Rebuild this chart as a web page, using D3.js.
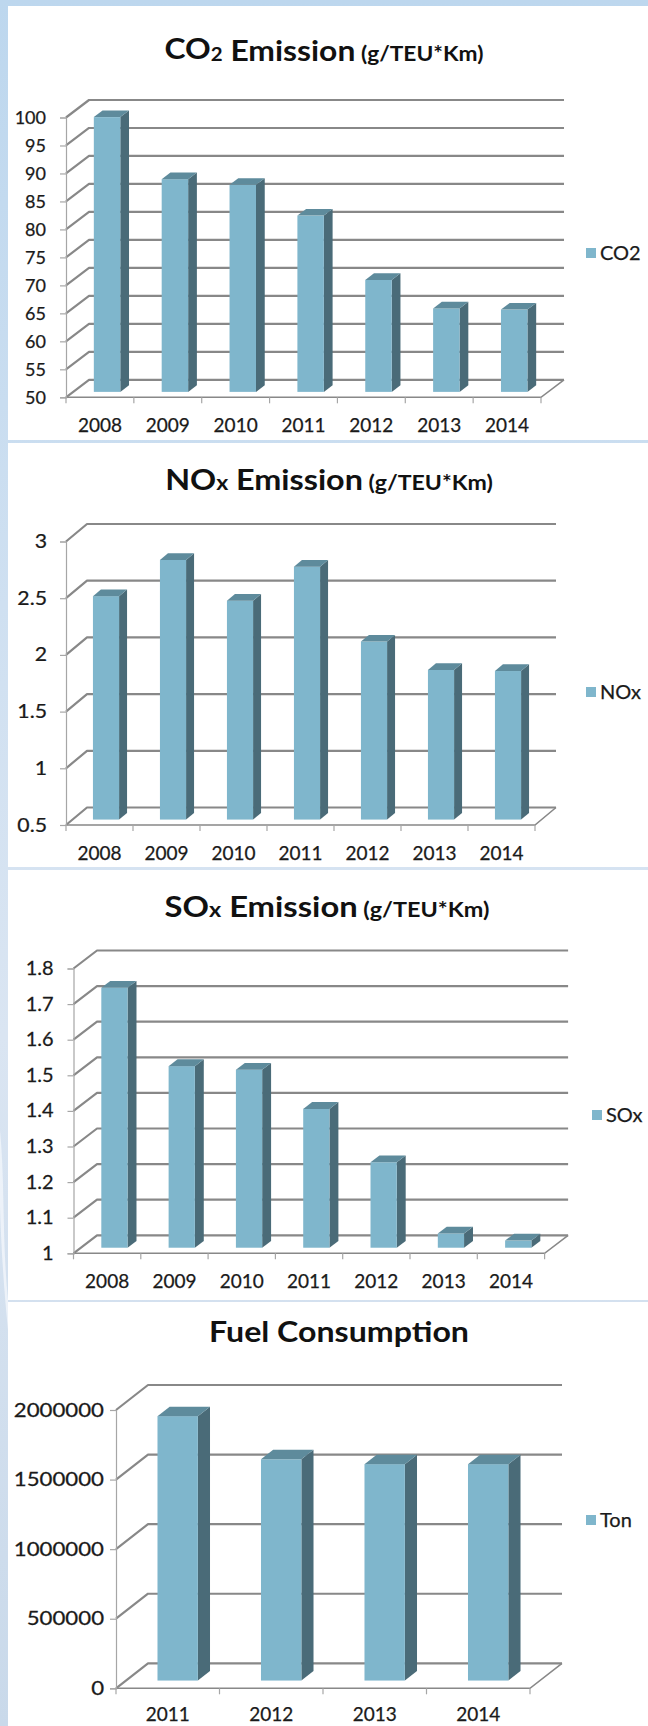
<!DOCTYPE html>
<html>
<head>
<meta charset="utf-8">
<script src="https://cdn.jsdelivr.net/npm/d3@7/dist/d3.min.js"></script>
<style>
  html, body { margin: 0; padding: 0; background: #ffffff; }
  svg { display: block; }
</style>
</head>
<body>
<svg id="chart" width="648" height="1726"></svg>
<script>
// ---- data ----
const years7 = ["2008", "2009", "2010", "2011", "2012", "2013", "2014"];
const years4 = ["2011", "2012", "2013", "2014"];

const co2Values  = [99.1, 88.0, 87.0, 81.5, 70.0, 64.9, 64.7];
const noxValues  = [2.47, 2.79, 2.43, 2.73, 2.07, 1.82, 1.81];
const soxValues  = [1.73, 1.51, 1.50, 1.39, 1.24, 1.04, 1.02];
const fuelValues = [1900000, 1590000, 1555000, 1555000];

const co2Ticks  = [50, 55, 60, 65, 70, 75, 80, 85, 90, 95, 100];
const noxTicks  = [0.5, 1, 1.5, 2, 2.5, 3];
const soxTicks  = [1, 1.1, 1.2, 1.3, 1.4, 1.5, 1.6, 1.7, 1.8];
const fuelTicks = [0, 500000, 1000000, 1500000, 2000000];

const co2Title  = [["CO", 28, 0], ["2", 18, 2], [" Emission", 28, 0], [" (g/TEU*Km)", 20, 0]];
const noxTitle  = [["NO", 28, 0], ["x", 20, 0], [" Emission", 28, 0], [" (g/TEU*Km)", 20, 0]];
const soxTitle  = [["SO", 28, 0], ["x", 20, 0], [" Emission", 28, 0], [" (g/TEU*Km)", 20, 0]];
const fuelTitle = [["Fuel Consumption", 28, 0]];

// ---- styling ----
const FONT = "Lato, 'Open Sans', 'DejaVu Sans', sans-serif";
const FRONT = "#7fb6cc", SIDE = "#4a6b78", TOP = "#5e8b9c";
const GRID = "#888888", AXIS = "#a6a6a6", TEXT = "#1a1a1a";

const panels = [
  { title: co2Title, titleCx: 324, titleBase: 59, titleW: 319,
    series: "CO2", cats: years7, vals: co2Values, ticks: co2Ticks, domain: [50, 100],
    top: 6, bottom: 440, x0: 66, x1: 541, yLo: 397.3, yHi: 117.5, dx: 23, dy: -17.5,
    labelPad: 14, labelSize: 18, labelStretch: 1.0, xLabelBase: 432, legendX: 586, legendY: 253 },
  { title: noxTitle, titleCx: 329, titleBase: 490, titleW: 328,
    series: "NOx", cats: years7, vals: noxValues, ticks: noxTicks, domain: [0.5, 3],
    top: 443, bottom: 867, x0: 66, x1: 535, yLo: 825, yHi: 541.5, dx: 21, dy: -17.5,
    labelPad: 13, labelSize: 19, labelStretch: 1.12, xLabelBase: 860, legendX: 586, legendY: 692 },
  { title: soxTitle, titleCx: 327, titleBase: 917, titleW: 325,
    series: "SOx", cats: years7, vals: soxValues, ticks: soxTicks, domain: [1, 1.8],
    top: 870, bottom: 1300, x0: 73.5, x1: 544.6, yLo: 1253.3, yHi: 968.5, dx: 23.5, dy: -18,
    labelPad: 14, labelSize: 19, labelStretch: 1.05, xLabelBase: 1288, legendX: 592, legendY: 1115 },
  { title: fuelTitle, titleCx: 339, titleBase: 1342, titleW: 260,
    series: "Ton", cats: years4, vals: fuelValues, ticks: fuelTicks, domain: [0, 2000000],
    top: 1302, bottom: 1726, x0: 116, x1: 530, yLo: 1688.3, yHi: 1410, dx: 32, dy: -25,
    labelPad: 6, labelSize: 19, labelStretch: 1.17, xLabelBase: 1721, legendX: 586, legendY: 1520 }
];

const svg = d3.select("#chart");

// ---- slide background ----
const defs = svg.append("defs");
const bg = defs.append("linearGradient").attr("id", "bgGrad")
  .attr("x1", 0).attr("y1", 0).attr("x2", 0).attr("y2", 1);
bg.append("stop").attr("offset", "0%").attr("stop-color", "#bdd7ee");
bg.append("stop").attr("offset", "35%").attr("stop-color", "#cfe0f1");
bg.append("stop").attr("offset", "60%").attr("stop-color", "#dae5f2");
bg.append("stop").attr("offset", "100%").attr("stop-color", "#c9d9ea");
svg.append("rect").attr("width", 648).attr("height", 1726).attr("fill", "url(#bgGrad)");

// soft streaks in the left margin
svg.append("path")
  .attr("d", "M0,1130 C5,1180 2,1240 8,1300 L8,1330 C2,1270 -2,1200 0,1130 Z")
  .attr("fill", "#f2f6fb").attr("opacity", 0.8);

panels.forEach(p => {
  const g = svg.append("g");

  // white panel
  g.append("rect").attr("x", 8).attr("y", p.top)
    .attr("width", 640).attr("height", p.bottom - p.top).attr("fill", "#ffffff");

  const x = d3.scaleBand().domain(p.cats).range([p.x0, p.x1]).paddingInner(0).paddingOuter(0);
  const y = d3.scaleLinear().domain(p.domain).range([p.yLo, p.yHi]);
  const [yMin] = p.domain;

  // side wall + back wall gridlines
  g.append("g").selectAll("polyline").data(p.ticks).join("polyline")
    .attr("points", t => {
      const yy = y(t);
      return `${p.x0},${yy} ${p.x0 + p.dx},${yy + p.dy} ${p.x1 + p.dx},${yy + p.dy}`;
    })
    .attr("fill", "none").attr("stroke", GRID).attr("stroke-width", 2.2)
    .attr("stroke-linejoin", "round");

  // floor front edge and right edge
  g.append("polyline")
    .attr("points", `${p.x0},${y(yMin)} ${p.x1},${y(yMin)} ${p.x1 + p.dx},${y(yMin) + p.dy}`)
    .attr("fill", "none").attr("stroke", GRID).attr("stroke-width", 1.6);

  // category boundary ticks under the floor
  const bounds = d3.range(p.cats.length + 1).map(i => p.x0 + i * x.step());
  g.append("g").selectAll("line").data(bounds).join("line")
    .attr("x1", d => d).attr("x2", d => d)
    .attr("y1", y(yMin)).attr("y2", y(yMin) + 6)
    .attr("stroke", AXIS).attr("stroke-width", 1.2);

  // value axis on the front plane
  const yAxis = d3.axisLeft(y).tickValues(p.ticks).tickSize(6).tickPadding(p.labelPad)
    .tickFormat(d => String(d));
  const ya = g.append("g").attr("transform", `translate(${p.x0},0)`).call(yAxis);
  ya.select(".domain").attr("stroke", AXIS).attr("stroke-width", 1.2);
  ya.selectAll(".tick line").attr("stroke", AXIS).attr("stroke-width", 1.2);
  const lx = -(6 + p.labelPad);
  ya.selectAll(".tick text")
    .attr("fill", TEXT).attr("font-family", FONT).attr("font-size", p.labelSize)
    .attr("stroke", TEXT).attr("stroke-width", 0.25)
    .attr("transform", `translate(${lx},0) scale(${p.labelStretch},1) translate(${-lx},0)`);

  // category labels
  const xa = g.append("g").attr("transform", `translate(0,${p.xLabelBase})`)
    .call(d3.axisBottom(x).tickSize(0).tickPadding(0));
  xa.select(".domain").remove();
  xa.selectAll(".tick text")
    .attr("y", 0).attr("dy", 0)
    .attr("fill", TEXT).attr("font-family", FONT).attr("font-size", 19)
    .attr("stroke", TEXT).attr("stroke-width", 0.25);

  // 3-D columns
  const bw = x.bandwidth() * 0.39;
  const d1 = 0.31, d2 = 0.69;
  const ox1 = d1 * p.dx, oy1 = d1 * p.dy, ox2 = d2 * p.dx, oy2 = d2 * p.dy;
  const bars = g.append("g").selectAll("g").data(p.vals.map((v, i) => ({ v, c: p.cats[i] })))
    .join("g");
  bars.each(function (d) {
    const b = d3.select(this);
    const xl = x(d.c) + (x.bandwidth() - bw) / 2;
    const xr = xl + bw;
    const yt = y(d.v), yb = y(yMin);
    // side face
    b.append("polygon")
      .attr("points", [[xr + ox1, yt + oy1], [xr + ox2, yt + oy2], [xr + ox2, yb + oy2], [xr + ox1, yb + oy1]].join(" "))
      .attr("fill", SIDE);
    // front face
    b.append("rect")
      .attr("x", xl + ox1).attr("y", yt + oy1)
      .attr("width", bw).attr("height", yb - yt)
      .attr("fill", FRONT);
    // top face
    b.append("polygon")
      .attr("points", [[xl + ox1, yt + oy1], [xr + ox1, yt + oy1], [xr + ox2, yt + oy2], [xl + ox2, yt + oy2]].join(" "))
      .attr("fill", TOP);
  });

  // legend
  g.append("rect").attr("x", p.legendX).attr("y", p.legendY - 5)
    .attr("width", 10).attr("height", 10).attr("fill", FRONT);
  g.append("text").attr("x", p.legendX + 14).attr("y", p.legendY + 6.5)
    .attr("fill", TEXT).attr("font-family", FONT).attr("font-size", 20)
    .attr("stroke", TEXT).attr("stroke-width", 0.25)
    .text(p.series);

  // title
  const t = g.append("text").attr("x", p.titleCx).attr("y", p.titleBase)
    .attr("text-anchor", "middle").attr("font-family", FONT).attr("font-weight", 700)
    .attr("fill", "#111111");
  p.title.forEach(([s, size, shift]) => {
    t.append("tspan").attr("font-size", size).attr("dy", shift).text(s);
    if (shift) t.append("tspan").attr("font-size", size).attr("dy", -shift).text("");
  });
  const w = t.node().getBBox().width;
  const s = p.titleW / w;
  t.attr("transform", `translate(${p.titleCx},0) scale(${s},1) translate(${-p.titleCx},0)`);
});
</script>
</body>
</html>
